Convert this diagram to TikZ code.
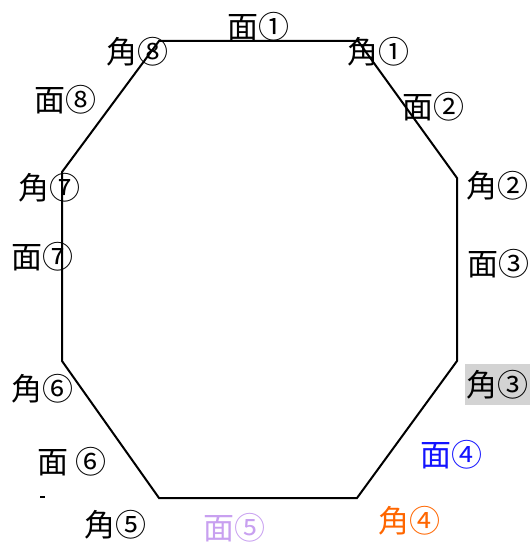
\documentclass[tikz,border=0pt]{standalone}
\usepackage{fontspec}
\newfontfamily\cjk{Noto Sans CJK JP}
\definecolor{lblblue}{RGB}{20,20,255}
\definecolor{lblorange}{RGB}{255,102,0}
\definecolor{lblviolet}{RGB}{200,160,240}
\definecolor{hlgray}{RGB}{211,211,211}
\begin{document}
\begin{tikzpicture}[x=1pt,y=-1pt,
  lbl/.style={font=\cjk\fontsize{31}{34}\selectfont, inner sep=0pt},
  edge/.style={draw=black, line width=2pt, line join=miter}]
\useasboundingbox (0,0) rectangle (530,545);
% octagon corners
\coordinate (c8) at (159,41);
\coordinate (c1) at (358,41);
\coordinate (c2) at (457,178);
\coordinate (c3) at (457,361);
\coordinate (c4) at (357,498);
\coordinate (c5) at (159,498);
\coordinate (c6) at (62,361);
\coordinate (c7) at (62,172);
\draw[edge] (c8) -- (c1) -- (c2) -- (c3) -- (c4) -- (c5) -- (c6) -- (c7) -- cycle;
% labels
\node[lbl] (f1) at (258,27) {面①};
\node[lbl] (a8) at (137,52) {角⑧};
\node[lbl] (a1) at (378,52) {角①};
\node[lbl] (f8) at (65,100) {面⑧};
\node[lbl] (f2) at (433,107) {面②};
\node[lbl] (a7) at (49,188) {角⑦};
\node[lbl] (a2) at (497,186) {角②};
\node[lbl] (f7) at (42,257) {面⑦};
\node[lbl] (f3) at (498,264) {面③};
\node[lbl, fill=hlgray, minimum width=65pt, minimum height=41pt] (a3) at (497.5,384.5) {角③};
\node[lbl] (a6) at (42,389) {角⑥};
\node[lbl, text=lblblue] (f4) at (451,455) {面④};
\node[lbl] (f6) at (72,462) {面 ⑥};
\node[lbl] (a5) at (115,525) {角⑤};
\node[lbl, text=lblviolet] (f5) at (234,528) {面⑤};
\node[lbl, text=lblorange] (a4) at (409,521) {角④};
\draw[line width=1.2pt] (40,497) -- (45,497);
\end{tikzpicture}
\end{document}
